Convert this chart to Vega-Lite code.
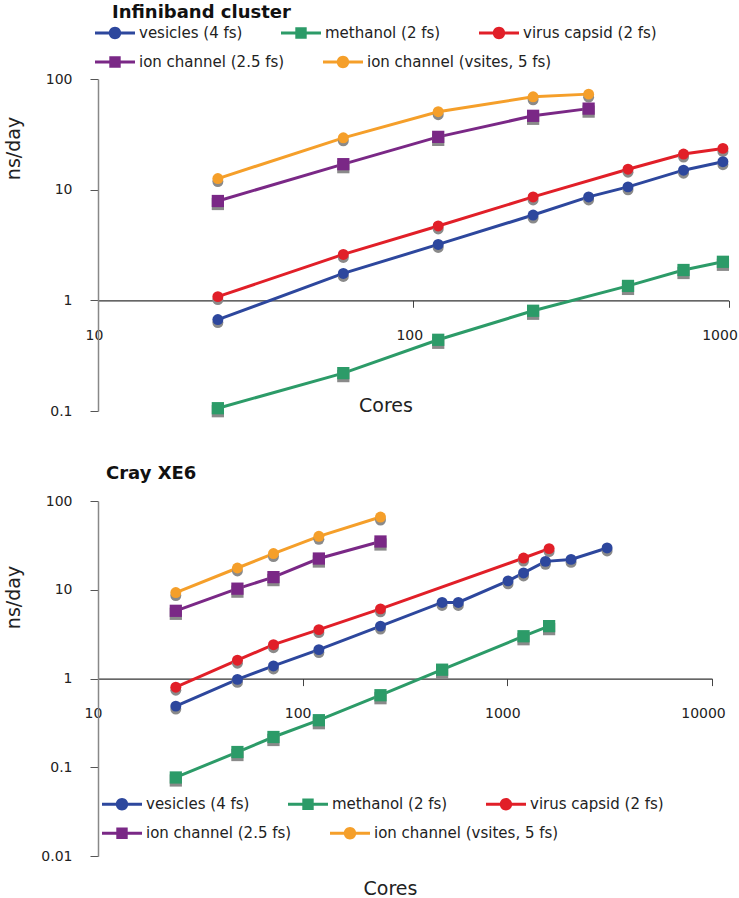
{
  "$schema": "https://vega.github.io/schema/vega-lite/v6.json",
  "padding": {"left": 4, "top": 4, "right": 0, "bottom": 0},
  "background": "white",
  "spacing": 47,
  "resolve": {"scale": {"color": "independent", "shape": "independent"}, "legend": {"color": "independent", "shape": "independent"}},
  "config": {
    "view": {"stroke": null},
    "font": "DejaVu Sans",
    "axis": {"grid": false, "labelFont": "DejaVu Sans", "labelFontSize": 14, "labelColor": "#222", "titleFont": "DejaVu Sans", "titleFontSize": 19, "titleFontWeight": "normal", "titleColor": "#222", "labelFlush": false, "labelOverlap": false},
    "legend": {"orient": "none", "direction": "horizontal", "columnPadding": 38, "labelOffset": 14, "labelFontSize": 15, "labelFont": "DejaVu Sans", "labelColor": "#222", "labelLimit": 400, "title": null, "symbolSize": 400, "symbolStrokeWidth": 0, "symbolOpacity": 1, "padding": 0}
  },
  "datasets": {
    "ib": [
      {"series": "vesicles (4 fs)", "cores": 24, "nsday": 0.67},
      {"series": "vesicles (4 fs)", "cores": 60, "nsday": 1.75},
      {"series": "vesicles (4 fs)", "cores": 120, "nsday": 3.2},
      {"series": "vesicles (4 fs)", "cores": 240, "nsday": 5.9},
      {"series": "vesicles (4 fs)", "cores": 360, "nsday": 8.6},
      {"series": "vesicles (4 fs)", "cores": 480, "nsday": 10.6},
      {"series": "vesicles (4 fs)", "cores": 720, "nsday": 15.0},
      {"series": "vesicles (4 fs)", "cores": 960, "nsday": 17.9},
      {"series": "methanol (2 fs)", "cores": 24, "nsday": 0.106},
      {"series": "methanol (2 fs)", "cores": 60, "nsday": 0.22},
      {"series": "methanol (2 fs)", "cores": 120, "nsday": 0.44},
      {"series": "methanol (2 fs)", "cores": 240, "nsday": 0.805},
      {"series": "methanol (2 fs)", "cores": 480, "nsday": 1.35},
      {"series": "methanol (2 fs)", "cores": 720, "nsday": 1.88},
      {"series": "methanol (2 fs)", "cores": 960, "nsday": 2.23},
      {"series": "virus capsid (2 fs)", "cores": 24, "nsday": 1.08},
      {"series": "virus capsid (2 fs)", "cores": 60, "nsday": 2.6},
      {"series": "virus capsid (2 fs)", "cores": 120, "nsday": 4.7},
      {"series": "virus capsid (2 fs)", "cores": 240, "nsday": 8.6},
      {"series": "virus capsid (2 fs)", "cores": 480, "nsday": 15.3},
      {"series": "virus capsid (2 fs)", "cores": 720, "nsday": 21.0},
      {"series": "virus capsid (2 fs)", "cores": 960, "nsday": 23.6},
      {"series": "ion channel (2.5 fs)", "cores": 24, "nsday": 7.9},
      {"series": "ion channel (2.5 fs)", "cores": 60, "nsday": 17.0},
      {"series": "ion channel (2.5 fs)", "cores": 120, "nsday": 30.0},
      {"series": "ion channel (2.5 fs)", "cores": 240, "nsday": 46.5},
      {"series": "ion channel (2.5 fs)", "cores": 360, "nsday": 54.0},
      {"series": "ion channel (vsites, 5 fs)", "cores": 24, "nsday": 12.6},
      {"series": "ion channel (vsites, 5 fs)", "cores": 60, "nsday": 29.4},
      {"series": "ion channel (vsites, 5 fs)", "cores": 120, "nsday": 50.6},
      {"series": "ion channel (vsites, 5 fs)", "cores": 240, "nsday": 69.0},
      {"series": "ion channel (vsites, 5 fs)", "cores": 360, "nsday": 73.0}
    ],
    "cray": [
      {"series": "vesicles (4 fs)", "cores": 24, "nsday": 0.49},
      {"series": "vesicles (4 fs)", "cores": 48, "nsday": 0.98},
      {"series": "vesicles (4 fs)", "cores": 72, "nsday": 1.39},
      {"series": "vesicles (4 fs)", "cores": 120, "nsday": 2.12},
      {"series": "vesicles (4 fs)", "cores": 240, "nsday": 3.9},
      {"series": "vesicles (4 fs)", "cores": 480, "nsday": 7.2},
      {"series": "vesicles (4 fs)", "cores": 576, "nsday": 7.2},
      {"series": "vesicles (4 fs)", "cores": 1008, "nsday": 12.6},
      {"series": "vesicles (4 fs)", "cores": 1200, "nsday": 15.5},
      {"series": "vesicles (4 fs)", "cores": 1536, "nsday": 20.9},
      {"series": "vesicles (4 fs)", "cores": 2048, "nsday": 22.0},
      {"series": "vesicles (4 fs)", "cores": 3072, "nsday": 29.6},
      {"series": "methanol (2 fs)", "cores": 24, "nsday": 0.077},
      {"series": "methanol (2 fs)", "cores": 48, "nsday": 0.149},
      {"series": "methanol (2 fs)", "cores": 72, "nsday": 0.22},
      {"series": "methanol (2 fs)", "cores": 120, "nsday": 0.34},
      {"series": "methanol (2 fs)", "cores": 240, "nsday": 0.65},
      {"series": "methanol (2 fs)", "cores": 480, "nsday": 1.26},
      {"series": "methanol (2 fs)", "cores": 1200, "nsday": 3.0},
      {"series": "methanol (2 fs)", "cores": 1600, "nsday": 3.9},
      {"series": "virus capsid (2 fs)", "cores": 24, "nsday": 0.8},
      {"series": "virus capsid (2 fs)", "cores": 48, "nsday": 1.61},
      {"series": "virus capsid (2 fs)", "cores": 72, "nsday": 2.41},
      {"series": "virus capsid (2 fs)", "cores": 120, "nsday": 3.56},
      {"series": "virus capsid (2 fs)", "cores": 240, "nsday": 6.1},
      {"series": "virus capsid (2 fs)", "cores": 1200, "nsday": 22.8},
      {"series": "virus capsid (2 fs)", "cores": 1600, "nsday": 29.1},
      {"series": "ion channel (2.5 fs)", "cores": 24, "nsday": 5.8},
      {"series": "ion channel (2.5 fs)", "cores": 48, "nsday": 10.3},
      {"series": "ion channel (2.5 fs)", "cores": 72, "nsday": 13.9},
      {"series": "ion channel (2.5 fs)", "cores": 120, "nsday": 22.5},
      {"series": "ion channel (2.5 fs)", "cores": 240, "nsday": 35.0},
      {"series": "ion channel (vsites, 5 fs)", "cores": 24, "nsday": 9.3},
      {"series": "ion channel (vsites, 5 fs)", "cores": 48, "nsday": 17.6},
      {"series": "ion channel (vsites, 5 fs)", "cores": 72, "nsday": 25.6},
      {"series": "ion channel (vsites, 5 fs)", "cores": 120, "nsday": 40.0},
      {"series": "ion channel (vsites, 5 fs)", "cores": 240, "nsday": 66.0}
    ]
  },
  "vconcat": [
    {
      "width": 630.5,
      "height": 332,
      "data": {"name": "ib"},
      "title": {"text": "Infiniband cluster", "anchor": "start", "frame": "group", "dx": 14, "fontSize": 18, "fontWeight": "bold", "font": "DejaVu Sans", "color": "#111", "baseline": "alphabetic", "offset": -13},
      "resolve": {"scale": {"color": "independent", "shape": "independent"}, "legend": {"color": "independent", "shape": "independent"}},
      "encoding": {
        "x": {"field": "cores", "type": "quantitative", "scale": {"type": "log", "domain": [10, 1000], "nice": false},
          "axis": {"values": [10, 100, 1000], "format": "~g", "offset": -110.7, "tickSize": 7, "tickColor": "#444", "domainColor": "#333", "domainWidth": 1.2, "labelPadding": 21, "labelOffset": {"condition": {"test": "datum.value >= 1000", "value": -9}, "value": -4}, "title": "Cores", "titleX": 287.5, "titleY": 110.7, "titleBaseline": "alphabetic", "titleAlign": "center"}},
        "y": {"field": "nsday", "type": "quantitative", "scale": {"type": "log", "domain": [0.1, 100], "nice": false},
          "axis": {"values": [0.1, 1, 10, 100], "format": "~g", "tickSize": 8, "tickColor": "#555", "domainColor": "#888", "domainWidth": 1.5, "labelPadding": 18, "title": "ns/day", "titleX": -74.5, "titleY": 69, "titleAngle": -90, "titleAlign": "center", "titleBaseline": "bottom"}}
      },
      "layer": [
        {"transform": [{"filter": {"field": "cores", "lt": 0}}],
         "mark": {"type": "point", "filled": true, "size": 400, "opacity": 1},
         "encoding": {
           "color": {"field": "series", "type": "nominal",
             "scale": {"domain": ["vesicles (4 fs)", "methanol (2 fs)", "virus capsid (2 fs)"], "range": ["#2d479d", "#2c9b68", "#e11f28"]},
             "legend": {"legendX": 7, "legendY": -56}},
           "shape": {"field": "series", "type": "nominal",
             "scale": {"domain": ["vesicles (4 fs)", "methanol (2 fs)", "virus capsid (2 fs)"],
               "range": ["M-2,-0.15H2V0.15H-2Z M0.62,0A0.62,0.62 0 1,1 -0.62,0A0.62,0.62 0 1,1 0.62,0Z", "M-2,-0.15H2V0.15H-2Z M-0.57,-0.57H0.57V0.57H-0.57Z", "M-2,-0.15H2V0.15H-2Z M0.62,0A0.62,0.62 0 1,1 -0.62,0A0.62,0.62 0 1,1 0.62,0Z"]},
             "legend": {"legendX": 7, "legendY": -56}}
         }},
        {"transform": [{"filter": {"field": "cores", "lt": 0}}],
         "mark": {"type": "point", "filled": true, "size": 400, "opacity": 1},
         "encoding": {
           "color": {"field": "series", "type": "nominal",
             "scale": {"domain": ["ion channel (2.5 fs)", "ion channel (vsites, 5 fs)"], "range": ["#7a2886", "#f59f2a"]},
             "legend": {"legendX": 7, "legendY": -27}},
           "shape": {"field": "series", "type": "nominal",
             "scale": {"domain": ["ion channel (2.5 fs)", "ion channel (vsites, 5 fs)"],
               "range": ["M-2,-0.15H2V0.15H-2Z M-0.57,-0.57H0.57V0.57H-0.57Z", "M-2,-0.15H2V0.15H-2Z M0.62,0A0.62,0.62 0 1,1 -0.62,0A0.62,0.62 0 1,1 0.62,0Z"]},
             "legend": {"legendX": 7, "legendY": -27}}
         }},
        {"mark": {"type": "line", "strokeWidth": 3},
         "encoding": {"color": {"field": "series", "type": "nominal", "legend": null,
           "scale": {"domain": ["vesicles (4 fs)", "methanol (2 fs)", "virus capsid (2 fs)", "ion channel (2.5 fs)", "ion channel (vsites, 5 fs)"], "range": ["#2d479d", "#2c9b68", "#e11f28", "#7a2886", "#f59f2a"]}}}},
        {"transform": [{"filter": {"field": "series", "oneOf": ["vesicles (4 fs)", "virus capsid (2 fs)", "ion channel (vsites, 5 fs)"]}}],
         "mark": {"type": "point", "shape": "circle", "filled": true, "size": 120, "color": "#8a8a8a", "opacity": 1, "yOffset": 3}},
        {"transform": [{"filter": {"field": "series", "oneOf": ["methanol (2 fs)", "ion channel (2.5 fs)"]}}],
         "mark": {"type": "square", "filled": true, "size": 150, "color": "#8a8a8a", "opacity": 1, "yOffset": 3}},
        {"transform": [{"filter": {"field": "series", "oneOf": ["vesicles (4 fs)", "virus capsid (2 fs)", "ion channel (vsites, 5 fs)"]}}],
         "mark": {"type": "point", "shape": "circle", "filled": true, "size": 120, "opacity": 1},
         "encoding": {"color": {"field": "series", "type": "nominal", "legend": null,
           "scale": {"domain": ["vesicles (4 fs)", "methanol (2 fs)", "virus capsid (2 fs)", "ion channel (2.5 fs)", "ion channel (vsites, 5 fs)"], "range": ["#2d479d", "#2c9b68", "#e11f28", "#7a2886", "#f59f2a"]}}}},
        {"transform": [{"filter": {"field": "series", "oneOf": ["methanol (2 fs)", "ion channel (2.5 fs)"]}}],
         "mark": {"type": "square", "filled": true, "size": 150, "opacity": 1},
         "encoding": {"color": {"field": "series", "type": "nominal", "legend": null,
           "scale": {"domain": ["vesicles (4 fs)", "methanol (2 fs)", "virus capsid (2 fs)", "ion channel (2.5 fs)", "ion channel (vsites, 5 fs)"], "range": ["#2d479d", "#2c9b68", "#e11f28", "#7a2886", "#f59f2a"]}}}}
      ]
    },
    {
      "width": 614,
      "height": 355.2,
      "data": {"name": "cray"},
      "title": {"text": "Cray XE6", "anchor": "start", "frame": "group", "dx": 8, "fontSize": 18, "fontWeight": "bold", "font": "DejaVu Sans", "color": "#111", "baseline": "alphabetic", "offset": -3},
      "resolve": {"scale": {"color": "independent", "shape": "independent"}, "legend": {"color": "independent", "shape": "independent"}},
      "encoding": {
        "x": {"field": "cores", "type": "quantitative", "scale": {"type": "log", "domain": [10, 10000], "nice": false},
          "axis": {"values": [10, 100, 1000, 10000], "format": "~g", "offset": -177.6, "tickSize": 7, "tickColor": "#444", "domainColor": "#333", "domainWidth": 1.2, "labelPadding": 21, "labelOffset": {"condition": {"test": "datum.value >= 10000", "value": -9}, "value": -5}, "title": "Cores", "titleX": 292, "titleY": 216, "titleBaseline": "alphabetic", "titleAlign": "center"}},
        "y": {"field": "nsday", "type": "quantitative", "scale": {"type": "log", "domain": [0.01, 100], "nice": false},
          "axis": {"values": [0.01, 0.1, 1, 10, 100], "format": "~g", "tickSize": 8, "tickColor": "#555", "domainColor": "#888", "domainWidth": 1.5, "labelPadding": 18, "title": "ns/day", "titleX": -74.5, "titleY": 96, "titleAngle": -90, "titleAlign": "center", "titleBaseline": "bottom"}}
      },
      "layer": [
        {"transform": [{"filter": {"field": "cores", "lt": 0}}],
         "mark": {"type": "point", "filled": true, "size": 400, "opacity": 1},
         "encoding": {
           "color": {"field": "series", "type": "nominal",
             "scale": {"domain": ["vesicles (4 fs)", "methanol (2 fs)", "virus capsid (2 fs)"], "range": ["#2d479d", "#2c9b68", "#e11f28"]},
             "legend": {"legendX": 14, "legendY": 293.3}},
           "shape": {"field": "series", "type": "nominal",
             "scale": {"domain": ["vesicles (4 fs)", "methanol (2 fs)", "virus capsid (2 fs)"],
               "range": ["M-2,-0.15H2V0.15H-2Z M0.62,0A0.62,0.62 0 1,1 -0.62,0A0.62,0.62 0 1,1 0.62,0Z", "M-2,-0.15H2V0.15H-2Z M-0.57,-0.57H0.57V0.57H-0.57Z", "M-2,-0.15H2V0.15H-2Z M0.62,0A0.62,0.62 0 1,1 -0.62,0A0.62,0.62 0 1,1 0.62,0Z"]},
             "legend": {"legendX": 14, "legendY": 293.3}}
         }},
        {"transform": [{"filter": {"field": "cores", "lt": 0}}],
         "mark": {"type": "point", "filled": true, "size": 400, "opacity": 1},
         "encoding": {
           "color": {"field": "series", "type": "nominal",
             "scale": {"domain": ["ion channel (2.5 fs)", "ion channel (vsites, 5 fs)"], "range": ["#7a2886", "#f59f2a"]},
             "legend": {"legendX": 14, "legendY": 322.3}},
           "shape": {"field": "series", "type": "nominal",
             "scale": {"domain": ["ion channel (2.5 fs)", "ion channel (vsites, 5 fs)"],
               "range": ["M-2,-0.15H2V0.15H-2Z M-0.57,-0.57H0.57V0.57H-0.57Z", "M-2,-0.15H2V0.15H-2Z M0.62,0A0.62,0.62 0 1,1 -0.62,0A0.62,0.62 0 1,1 0.62,0Z"]},
             "legend": {"legendX": 14, "legendY": 322.3}}
         }},
        {"mark": {"type": "line", "strokeWidth": 3},
         "encoding": {"color": {"field": "series", "type": "nominal", "legend": null,
           "scale": {"domain": ["vesicles (4 fs)", "methanol (2 fs)", "virus capsid (2 fs)", "ion channel (2.5 fs)", "ion channel (vsites, 5 fs)"], "range": ["#2d479d", "#2c9b68", "#e11f28", "#7a2886", "#f59f2a"]}}}},
        {"transform": [{"filter": {"field": "series", "oneOf": ["vesicles (4 fs)", "virus capsid (2 fs)", "ion channel (vsites, 5 fs)"]}}],
         "mark": {"type": "point", "shape": "circle", "filled": true, "size": 120, "color": "#8a8a8a", "opacity": 1, "yOffset": 3}},
        {"transform": [{"filter": {"field": "series", "oneOf": ["methanol (2 fs)", "ion channel (2.5 fs)"]}}],
         "mark": {"type": "square", "filled": true, "size": 150, "color": "#8a8a8a", "opacity": 1, "yOffset": 3}},
        {"transform": [{"filter": {"field": "series", "oneOf": ["vesicles (4 fs)", "virus capsid (2 fs)", "ion channel (vsites, 5 fs)"]}}],
         "mark": {"type": "point", "shape": "circle", "filled": true, "size": 120, "opacity": 1},
         "encoding": {"color": {"field": "series", "type": "nominal", "legend": null,
           "scale": {"domain": ["vesicles (4 fs)", "methanol (2 fs)", "virus capsid (2 fs)", "ion channel (2.5 fs)", "ion channel (vsites, 5 fs)"], "range": ["#2d479d", "#2c9b68", "#e11f28", "#7a2886", "#f59f2a"]}}}},
        {"transform": [{"filter": {"field": "series", "oneOf": ["methanol (2 fs)", "ion channel (2.5 fs)"]}}],
         "mark": {"type": "square", "filled": true, "size": 150, "opacity": 1},
         "encoding": {"color": {"field": "series", "type": "nominal", "legend": null,
           "scale": {"domain": ["vesicles (4 fs)", "methanol (2 fs)", "virus capsid (2 fs)", "ion channel (2.5 fs)", "ion channel (vsites, 5 fs)"], "range": ["#2d479d", "#2c9b68", "#e11f28", "#7a2886", "#f59f2a"]}}}}
      ]
    }
  ]
}
